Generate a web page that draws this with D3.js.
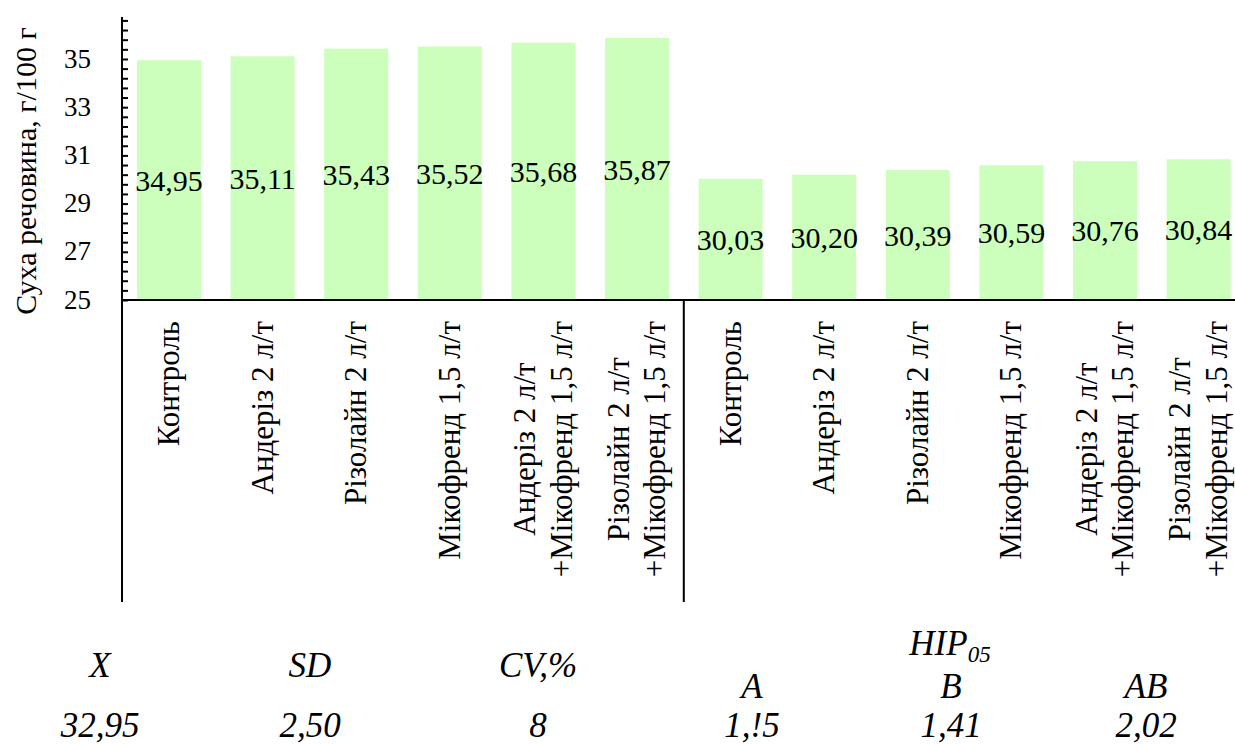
<!DOCTYPE html>
<html>
<head>
<meta charset="utf-8">
<script src="https://cdn.jsdelivr.net/npm/d3@7"></script>
<style>
  html, body { margin: 0; padding: 0; background: #fff; overflow: hidden; }
  svg { display: block; }
</style>
</head>
<body>
<svg id="chart" width="1235" height="744"></svg>
<script>
// Categories: treatments, repeated for the two groups
const treatments = [
  ["Контроль"],
  ["Андеріз 2 л/т"],
  ["Різолайн 2 л/т"],
  ["Мікофренд 1,5 л/т"],
  ["Андеріз 2 л/т", "+Мікофренд 1,5 л/т"],
  ["Різолайн 2 л/т", "+Мікофренд 1,5 л/т"]
];
// Dry matter, g/100 g
const group1Values = [34.95, 35.11, 35.43, 35.52, 35.68, 35.87];
const group2Values = [30.03, 30.20, 30.39, 30.59, 30.76, 30.84];
const yTickLabels = [25, 27, 29, 31, 33, 35];
const yTitle = "Суха речовина, г/100 г";

// Summary statistics under the chart
const statHeads = ["X", "SD", "CV,%"];
const statValues = ["32,95", "2,50", "8"];
const lsdHeads = ["A", "B", "AB"];
const lsdValues = ["1,!5", "1,41", "2,02"];

const FONT = "'Liberation Serif', 'Times New Roman', serif";

const rows = [];
group1Values.forEach((v, i) => rows.push({ id: "g1-" + i, label: treatments[i], value: v }));
group2Values.forEach((v, i) => rows.push({ id: "g2-" + i, label: treatments[i], value: v }));

const svg = d3.select("#chart");
const fmt = v => d3.format(".2f")(v).replace(".", ",");

function addText(str, size, italic) {
  return svg.append("text")
    .attr("fill", "#000")
    .style("font-family", FONT)
    .style("font-size", size + "px")
    .style("font-style", italic ? "italic" : "normal")
    .text(str);
}

const x0 = 122.2, step = 93.6;
const x = d3.scaleBand()
  .domain(rows.map(d => d.id))
  .range([x0, x0 + step * rows.length])
  .paddingInner(0.316)
  .paddingOuter(0.158);

const y = d3.scaleLinear().domain([25, 36.7]).range([300, 18]);

// Bars
svg.append("g").selectAll("rect")
  .data(rows).join("rect")
  .attr("x", d => x(d.id))
  .attr("y", d => y(d.value))
  .attr("width", x.bandwidth())
  .attr("height", d => y(25) - y(d.value))
  .attr("fill", "#ccffbb");

// Value labels, centred in each bar
rows.forEach(d => {
  addText(fmt(d.value), 30, false)
    .attr("x", x(d.id) + x.bandwidth() / 2)
    .attr("y", (y(d.value) + y(25)) / 2)
    .attr("dy", "0.35em")
    .attr("text-anchor", "middle");
});

// Minor ticks every 0.4 along the value axis
const minorTicks = d3.range(0, 30).map(k => +(25 + 0.4 * k).toFixed(1));
const tickAxis = d3.axisLeft(y).tickValues(minorTicks).tickSize(-6).tickFormat("");
const gTicks = svg.append("g").attr("transform", "translate(122,0)").call(tickAxis);
gTicks.select(".domain").remove();
gTicks.selectAll("text").remove();
gTicks.selectAll("line").attr("stroke", "#000").attr("stroke-width", 2);

// Labelled values
yTickLabels.forEach(v => {
  addText(d3.format("d")(v), 27, false)
    .attr("x", 91)
    .attr("y", y(v))
    .attr("dy", "0.32em")
    .attr("text-anchor", "end");
});

// Axis lines and group separator
const lines = svg.append("g").attr("stroke", "#000").attr("stroke-width", 2);
lines.append("line").attr("x1", 122).attr("x2", 122).attr("y1", y(36.7) - 1).attr("y2", 602);
lines.append("line").attr("x1", 121).attr("x2", 1235).attr("y1", y(25)).attr("y2", y(25));
const sepX = x0 + step * group1Values.length;
lines.append("line").attr("x1", sepX).attr("x2", sepX).attr("y1", y(25)).attr("y2", 602);

// Category labels, rotated; each block hangs from the axis, lines centred within it
rows.forEach(d => {
  const cx = x(d.id) + x.bandwidth() / 2;
  const lineH = 36.7;
  const n = d.label.length;
  const texts = d.label.map(t => addText(t, 31, false).attr("text-anchor", "middle"));
  const maxW = d3.max(texts, t => t.node().getComputedTextLength());
  texts.forEach((t, i) => {
    const px = cx + (i - (n - 1) / 2) * lineH + 10;
    const py = 321 + maxW / 2;
    t.attr("transform", `translate(${px},${py}) rotate(-90)`);
  });
});

// Value axis title
addText(yTitle, 30, false)
  .attr("transform", "translate(36,171) rotate(-90)")
  .attr("text-anchor", "middle");

// Statistics block
const statX = [100, 310, 538];
const lsdX = [752, 951, 1146];
statHeads.forEach((t, i) => addText(t, 35, true).attr("text-anchor", "middle").attr("x", statX[i]).attr("y", 677));
statValues.forEach((t, i) => addText(t, 35, true).attr("text-anchor", "middle").attr("x", statX[i]).attr("y", 737));
const hip = addText("", 35, true).attr("text-anchor", "middle").attr("x", 950).attr("y", 655);
hip.append("tspan").text("HIP");
hip.append("tspan").attr("dy", 7).style("font-size", "23px").text("05");
lsdHeads.forEach((t, i) => addText(t, 35, true).attr("text-anchor", "middle").attr("x", lsdX[i]).attr("y", 698));
lsdValues.forEach((t, i) => addText(t, 35, true).attr("text-anchor", "middle").attr("x", lsdX[i]).attr("y", 737));
</script>
</body>
</html>
